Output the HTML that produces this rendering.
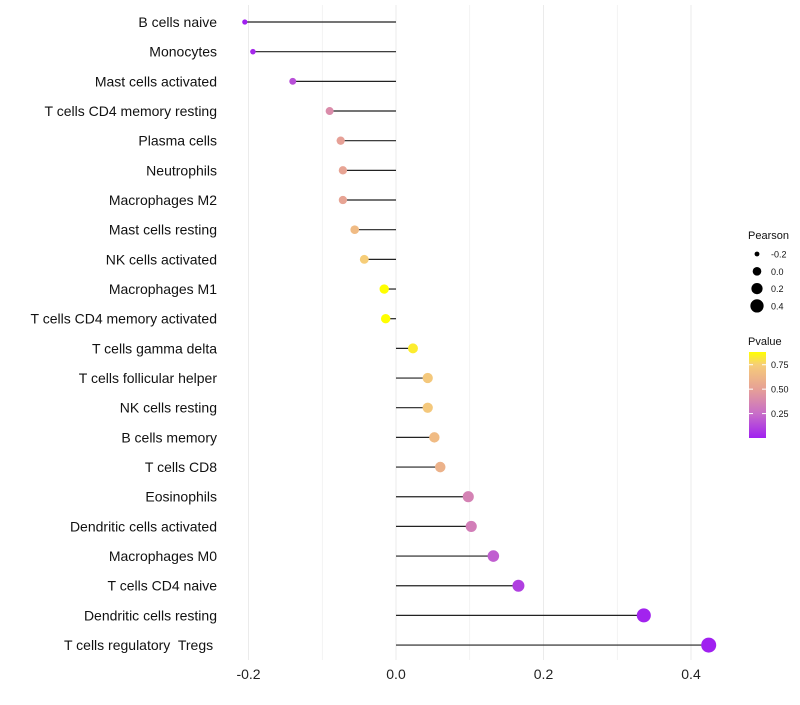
<!DOCTYPE html>
<html><head><meta charset="utf-8"><style>
body{margin:0;background:#fff;font-family:"Liberation Sans",sans-serif}
text{white-space:pre}
</style></head><body>
<svg id="chart" width="800" height="700" xmlns="http://www.w3.org/2000/svg"></svg>
<script>
const categories=["B cells naive","Monocytes","Mast cells activated","T cells CD4 memory resting","Plasma cells","Neutrophils","Macrophages M2","Mast cells resting","NK cells activated","Macrophages M1","T cells CD4 memory activated","T cells gamma delta","T cells follicular helper","NK cells resting","B cells memory","T cells CD8","Eosinophils","Dendritic cells activated","Macrophages M0","T cells CD4 naive","Dendritic cells resting","T cells regulatory  Tregs "];
const pearson=[-0.205,-0.194,-0.14,-0.09,-0.075,-0.072,-0.072,-0.056,-0.043,-0.016,-0.014,0.023,0.043,0.043,0.052,0.06,0.098,0.102,0.132,0.166,0.336,0.424];
const pvalues=[0.0,0.03,0.15,0.4,0.5,0.52,0.52,0.65,0.75,0.93,0.93,0.83,0.72,0.72,0.65,0.6,0.35,0.33,0.2,0.1,0.01,0.0];
const xTicks=[-0.2,0.0,0.2,0.4];
const sizeLegend=[-0.2,0.0,0.2,0.4];
const colorTicks=[0.25,0.5,0.75];
const svg=document.getElementById('chart');
const NS="http://www.w3.org/2000/svg";
function X(v){return 396+v*737.5;}
function Y(i){return 22+i*29.67;}
function R(v){return Math.sqrt(Math.max(3,23+78.6*v));}
const stops=[[0,[160,32,240]],[0.25,[200,110,200]],[0.5,[230,160,150]],[0.75,[246,205,120]],[0.88,[255,255,0]]];
function C(p){p=Math.min(0.88,Math.max(0,p));for(let k=1;k<stops.length;k++){if(p<=stops[k][0]){const a=stops[k-1],b=stops[k];const t=(p-a[0])/(b[0]-a[0]);const c=a[1].map((v,j)=>Math.round(v+(b[1][j]-v)*t));return `rgb(${c})`;}}return 'rgb(255,255,0)';}
function el(t,a,parent){const e=document.createElementNS(NS,t);for(const k in a)e.setAttribute(k,a[k]);(parent||svg).appendChild(e);return e;}
for(let v=-0.2;v<=0.45;v+=0.1){const g=el('line',{x1:X(v),x2:X(v),y1:5,y2:660,stroke:'#ebebeb','stroke-width':Math.abs(Math.round(v*10))%2===0?1:0.6});

}
xTicks.forEach(v=>{const t=el('text',{x:X(v),y:679,'text-anchor':'middle','font-size':14,fill:'#222'});t.textContent=v.toFixed(1);

});
categories.forEach((c,i)=>{
const t=el('text',{x:217,y:Y(i)+5,'text-anchor':'end','font-size':14,fill:'#111'});t.textContent=c;


const l=el('line',{x1:X(0),x2:X(pearson[i]),y1:Y(i),y2:Y(i),stroke:'#222','stroke-width':1.2});


const d=el('circle',{cx:X(pearson[i]),cy:Y(i),r:R(pearson[i]),fill:C(pvalues[i])});


});
const lt=el('text',{x:748,y:239,'font-size':11,fill:'#111'});lt.textContent='Pearson';


sizeLegend.forEach((v,k)=>{const cy=254+k*17.3;const c=el('circle',{cx:757,cy:cy,r:R(v)*0.9,fill:'#000'});


const t=el('text',{x:771,y:cy+3.5,'font-size':9,fill:'#111'});t.textContent=v.toFixed(1);

});
const ct=el('text',{x:748,y:345,'font-size':11,fill:'#111'});ct.textContent='Pvalue';


const defs=el('defs',{});const lg=el('linearGradient',{id:'pg',x1:0,y1:1,x2:0,y2:0},defs);
stops.forEach(s=>el('stop',{offset:s[0]/0.88,'stop-color':`rgb(${s[1]})`},lg));
const cb=el('rect',{x:749,y:352,width:17,height:86,fill:'url(#pg)'});


colorTicks.forEach(v=>{const y=438-v*97.7;el('line',{x1:749,x2:753,y1:y,y2:y,stroke:'#fff'});el('line',{x1:762,x2:766,y1:y,y2:y,stroke:'#fff'});
const t=el('text',{x:771,y:y+3.5,'font-size':9,fill:'#111'});t.textContent=v.toFixed(2);

});
</script>
</body></html>
